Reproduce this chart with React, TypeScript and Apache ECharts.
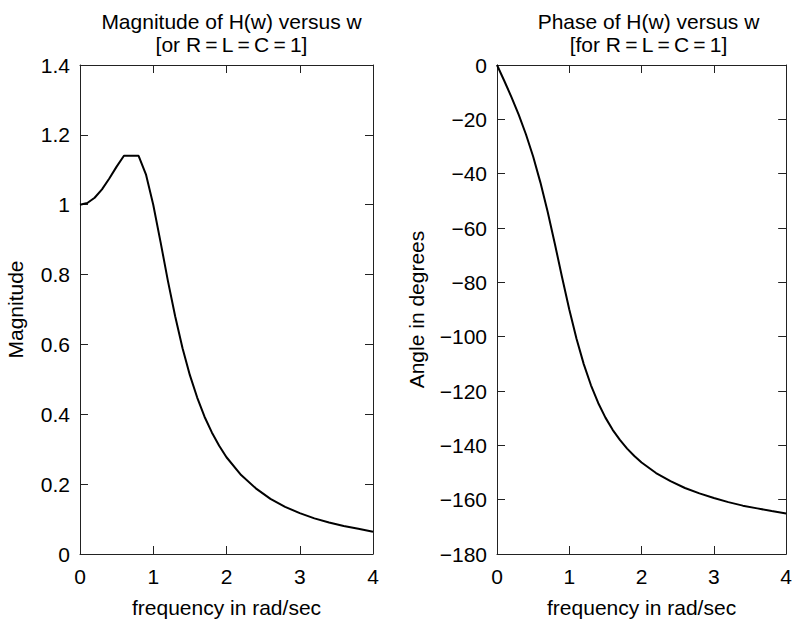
import React, { useEffect, useRef } from "react";
import * as echarts from "echarts";

const magFreq = [0, 0.1, 0.2, 0.3, 0.4, 0.5, 0.6, 0.8, 0.9, 1.0, 1.1, 1.2, 1.3, 1.4, 1.5, 1.6, 1.7, 1.8, 1.9, 2.0, 2.2, 2.4, 2.6, 2.8, 3.0, 3.2, 3.4, 3.6, 3.8, 4.0];
const magValues = [1.0, 1.005, 1.02, 1.044, 1.075, 1.109, 1.14, 1.14, 1.087, 1.0, 0.893, 0.782, 0.68, 0.589, 0.512, 0.448, 0.393, 0.348, 0.31, 0.277, 0.226, 0.188, 0.158, 0.135, 0.117, 0.102, 0.09, 0.08, 0.072, 0.064];

const phaseFreq = [0, 0.1, 0.2, 0.3, 0.4, 0.5, 0.6, 0.7, 0.8, 0.9, 1.0, 1.1, 1.2, 1.3, 1.4, 1.5, 1.6, 1.7, 1.8, 1.9, 2.0, 2.2, 2.4, 2.6, 2.8, 3.0, 3.2, 3.4, 3.6, 3.8, 4.0];
const phaseValues = [0, -5.8, -11.8, -18.3, -25.5, -33.7, -43.2, -53.9, -65.8, -78.1, -90, -100.8, -110.1, -117.9, -124.4, -129.8, -134.3, -138.0, -141.2, -143.9, -146.3, -150.2, -153.2, -155.7, -157.7, -159.4, -160.9, -162.2, -163.2, -164.2, -165.1];

const leftTitle = "Magnitude of H(w) versus w\n[or R\u2009=\u2009L\u2009=\u2009C\u2009=\u20091]";
const rightTitle = "Phase of H(w) versus w\n[for R\u2009=\u2009L\u2009=\u2009C\u2009=\u20091]";
const xName = "frequency in rad/sec";
const leftYName = "Magnitude";
const rightYName = "Angle in degrees";

const FONT = "'Liberation Sans', Arial, Helvetica, sans-serif";
const FS = 21;
const AX = "#222";

export default function App() {
  const ref = useRef<HTMLDivElement>(null);
  useEffect(() => {
    if (!ref.current) return;
    const chart = echarts.init(ref.current, undefined, { renderer: "svg" });
    const lineStyle = { color: AX, width: 1 };
    const axisLine = { show: true, onZero: false, lineStyle };
    const tickIn = { show: true, inside: true, length: 8, lineStyle };
    const labelStyle = { color: "#000", fontSize: FS, fontFamily: FONT };
    const minusFmt = (v: number) => (v < 0 ? "\u2212" + Math.abs(v) : String(v));

    const xBottom = (gi: number) => ({
      type: "value", gridIndex: gi, min: 0, max: 4, interval: 1, position: "bottom",
      axisLine, axisTick: tickIn, splitLine: { show: false },
      axisLabel: { ...labelStyle, margin: 12 },
      name: xName, nameLocation: "middle", nameGap: 43,
      nameTextStyle: { color: "#000", fontSize: FS, fontFamily: FONT },
    });
    const xTop = (gi: number) => ({
      type: "value", gridIndex: gi, min: 0, max: 4, interval: 1, position: "top",
      axisLine, axisTick: tickIn, splitLine: { show: false },
      axisLabel: { show: false },
    });
    const yRightBox = (gi: number, min: number, max: number, interval: number) => ({
      type: "value", gridIndex: gi, min, max, interval, position: "right",
      axisLine, axisTick: tickIn, splitLine: { show: false },
      axisLabel: { show: false },
    });

    chart.setOption({
      animation: false,
      backgroundColor: "#fff",
      title: [
        { text: leftTitle, left: 226.5, top: 5, textAlign: "center",
          textStyle: { color: "#000", fontSize: FS, fontWeight: "normal", fontFamily: FONT, lineHeight: 23 } },
        { text: rightTitle, left: 643.5, top: 5, textAlign: "center",
          textStyle: { color: "#000", fontSize: FS, fontWeight: "normal", fontFamily: FONT, lineHeight: 23 } },
      ],
      grid: [
        { left: 80, width: 293, top: 65, bottom: 69 },
        { left: 497, width: 293, top: 65, bottom: 69 },
      ],
      xAxis: [xBottom(0), xTop(0), xBottom(1), xTop(1)],
      yAxis: [
        {
          type: "value", gridIndex: 0, min: 0, max: 1.4, interval: 0.2, position: "left",
          axisLine, axisTick: tickIn, splitLine: { show: false },
          axisLabel: { ...labelStyle, margin: 10 },
          name: leftYName, nameLocation: "middle", nameGap: 54, nameRotate: 90,
          nameTextStyle: { color: "#000", fontSize: FS, fontFamily: FONT },
        },
        yRightBox(0, 0, 1.4, 0.2),
        {
          type: "value", gridIndex: 1, min: -180, max: 0, interval: 20, position: "left",
          axisLine, axisTick: tickIn, splitLine: { show: false },
          axisLabel: { ...labelStyle, margin: 10, formatter: minusFmt },
          name: rightYName, nameLocation: "middle", nameGap: 70, nameRotate: 90,
          nameTextStyle: { color: "#000", fontSize: FS, fontFamily: FONT },
        },
        yRightBox(1, -180, 0, 20),
      ],
      series: [
        {
          type: "line", xAxisIndex: 0, yAxisIndex: 0, showSymbol: false,
          lineStyle: { color: "#000", width: 2 },
          data: magFreq.map((f, i) => [f, magValues[i]]),
        },
        {
          type: "line", xAxisIndex: 2, yAxisIndex: 2, showSymbol: false,
          lineStyle: { color: "#000", width: 2 },
          data: phaseFreq.map((f, i) => [f, phaseValues[i]]),
        },
      ],
    });
    return () => chart.dispose();
  }, []);
  return <div ref={ref} style={{ width: 795, height: 623, position: "absolute", left: 0, top: 0 }} />;
}
